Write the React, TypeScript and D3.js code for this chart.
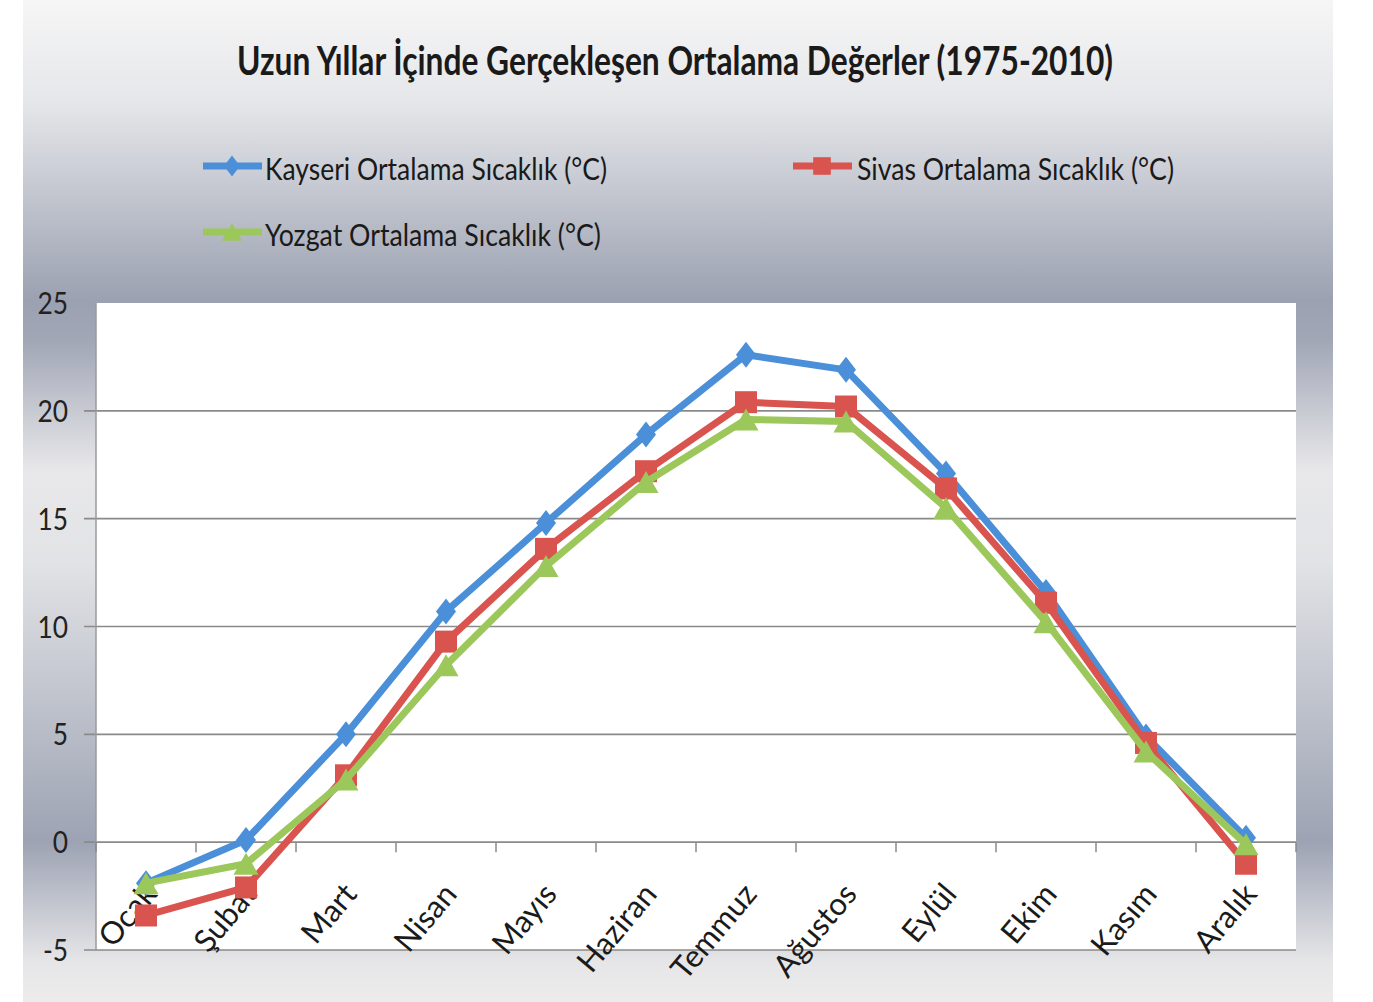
import React from "react";
import * as d3 from "d3";

const months = ["Ocak", "Şubat", "Mart", "Nisan", "Mayıs", "Haziran", "Temmuz", "Ağustos", "Eylül", "Ekim", "Kasım", "Aralık"];
const kayseri = [-1.9, 0.1, 5.0, 10.7, 14.8, 18.9, 22.6, 21.9, 17.1, 11.6, 4.9, 0.2];
const sivas = [-3.4, -2.1, 3.1, 9.3, 13.6, 17.2, 20.4, 20.2, 16.4, 11.1, 4.6, -1.0];
const yozgat = [-1.9, -1.0, 2.9, 8.2, 12.8, 16.7, 19.6, 19.5, 15.5, 10.2, 4.2, -0.1];
const yTicks = [-5, 0, 5, 10, 15, 20, 25];
const title = "Uzun Yıllar İçinde Gerçekleşen Ortalama Değerler (1975-2010)";
const seriesNames = ["Kayseri Ortalama Sıcaklık (°C)", "Sivas Ortalama Sıcaklık (°C)", "Yozgat Ortalama Sıcaklık (°C)"];

const W = 1373;
const H = 1002;
const FONT = "Lato, 'Open Sans', sans-serif";
const COLORS = ["#4a8fd8", "#d9534f", "#9cc75a"];
const SHAPES = ["diamond", "square", "triangle"];

function Marker({ shape, x, y, color, s = 1 }: { shape: string; x: number; y: number; color: string; s?: number }) {
  if (shape === "diamond") {
    const w = 10 * s, h = 13 * s;
    return <path d={`M${x},${y - h}L${x + w},${y}L${x},${y + h}L${x - w},${y}Z`} fill={color} />;
  }
  if (shape === "square") {
    const a = 11 * s;
    return <rect x={x - a} y={y - a} width={2 * a} height={2 * a} fill={color} />;
  }
  const w = 12.5 * s, h = 11 * s;
  return <path d={`M${x},${y - h}L${x + w},${y + h}L${x - w},${y + h}Z`} fill={color} />;
}

export default function App() {
  const left = 96, right = 1296, top = 303, bottom = 950;
  const x = d3.scaleBand<string>().domain(months).range([left, right]);
  const y = d3.scaleLinear().domain([-5, 25]).range([bottom, top]);
  const cx = (m: string) => (x(m) as number) + x.bandwidth() / 2;
  const series = [kayseri, sivas, yozgat];
  const line = d3
    .line<number>()
    .x((_, i) => cx(months[i]))
    .y((d) => y(d));

  const legend = [
    { lx: 203, ly: 166, tx: 265, tl: 342 },
    { lx: 793, ly: 166, tx: 857, tl: 317 },
    { lx: 203, ly: 232, tx: 265, tl: 336 },
  ];

  return (
    <svg width={W} height={H} style={{ position: "absolute", left: 0, top: 0 }} fontFamily={FONT}>
      <defs>
        <linearGradient id="bg" x1="0" y1="0" x2="0" y2="1">
          <stop offset="0" stopColor="#f6f6f6" />
          <stop offset="0.1" stopColor="#e6e7ea" />
          <stop offset="0.3" stopColor="#9ba1b1" />
          <stop offset="0.34" stopColor="#a2a7b6" />
          <stop offset="0.47" stopColor="#e8e8ea" />
          <stop offset="0.56" stopColor="#e2e3e6" />
          <stop offset="0.84" stopColor="#9da3b3" />
          <stop offset="0.96" stopColor="#e6e6e8" />
          <stop offset="1" stopColor="#ececec" />
        </linearGradient>
      </defs>
      <rect x={0} y={0} width={W} height={H} fill="#ffffff" />
      <rect x={23} y={0} width={1310} height={H} fill="url(#bg)" />

      <text x={675} y={75} textAnchor="middle" fontSize={40} fontWeight="bold" fill="#1a1a1a" textLength={876} lengthAdjust="spacingAndGlyphs">
        {title}
      </text>

      {legend.map((l, i) => (
        <g key={i}>
          <line x1={l.lx} x2={l.lx + 59} y1={l.ly} y2={l.ly} stroke={COLORS[i]} strokeWidth={7} />
          <Marker shape={SHAPES[i]} x={l.lx + 29} y={l.ly} color={COLORS[i]} s={0.8} />
          <text x={l.tx} y={l.ly + 14} fontSize={30} fill="#1a1a1a" textLength={l.tl} lengthAdjust="spacingAndGlyphs">
            {seriesNames[i]}
          </text>
        </g>
      ))}

      <rect x={left} y={top} width={right - left} height={bottom - top} fill="#ffffff" />

      {yTicks.filter((t) => t < 25).map((t) => (
        <line key={t} x1={left - 12} x2={right} y1={y(t)} y2={y(t)} stroke="#8a8a8a" strokeWidth={1.6} />
      ))}
      <line x1={left} x2={left} y1={top} y2={bottom} stroke="#9a9a9a" strokeWidth={1.5} />
      {d3.range(months.length + 1).map((i) => {
        const xx = left + i * x.bandwidth();
        return <line key={i} x1={xx} x2={xx} y1={y(0)} y2={y(0) + 10} stroke="#8a8a8a" strokeWidth={1.5} />;
      })}

      {yTicks.map((t) => (
        <text key={t} transform={`translate(68,${y(t)}) scale(0.85,1)`} textAnchor="end" dy="0.36em" fontSize={31} fill="#222">
          {t}
        </text>
      ))}

      {months.map((m) => (
        <text
          key={m}
          transform={`translate(${cx(m) + 4},${888}) rotate(-50)`}
          textAnchor="end"
          dy="0.35em"
          fontSize={31}
          fill="#1a1a1a"
        >
          {m}
        </text>
      ))}

      {series.map((s, i) => (
        <g key={i}>
          <path d={line(s) || ""} fill="none" stroke={COLORS[i]} strokeWidth={7} strokeLinejoin="round" />
          {s.map((v, j) => (
            <Marker key={j} shape={SHAPES[i]} x={cx(months[j])} y={y(v)} color={COLORS[i]} />
          ))}
        </g>
      ))}
    </svg>
  );
}
